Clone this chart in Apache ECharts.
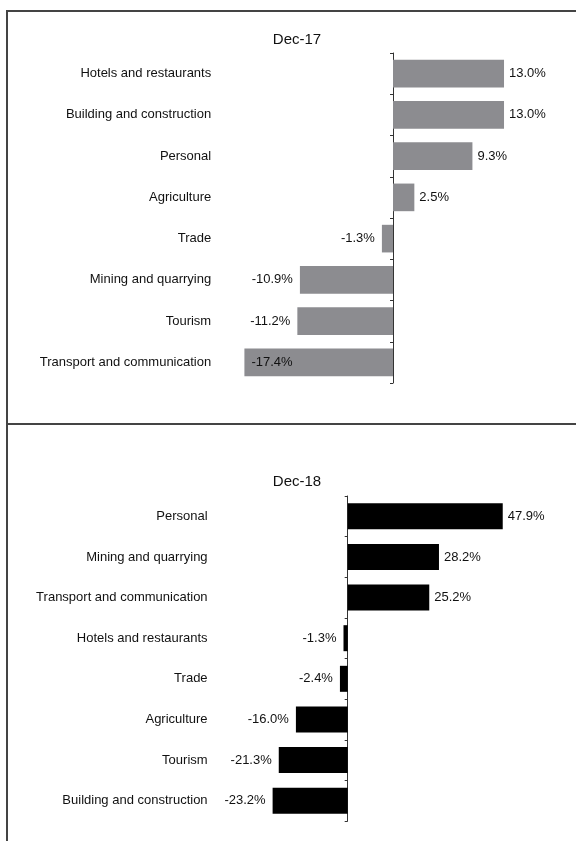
<!DOCTYPE html>
<html>
<head>
<meta charset="utf-8">
<script src="https://cdn.jsdelivr.net/npm/echarts@6/dist/echarts.min.js"></script>
<style>
  html, body { margin: 0; padding: 0; background: #fff; }
  #main { width: 576px; height: 841px; }
</style>
</head>
<body>
<div id="main"></div>
<script>
// top panel
const title17 = "Dec-17";
const cats17 = ["Hotels and restaurants", "Building and construction", "Personal", "Agriculture",
  "Trade", "Mining and quarrying", "Tourism", "Transport and communication"];
const vals17 = [13.0, 13.0, 9.3, 2.5, -1.3, -10.9, -11.2, -17.4];

// bottom panel
const title18 = "Dec-18";
const cats18 = ["Personal", "Mining and quarrying", "Transport and communication", "Hotels and restaurants",
  "Trade", "Agriculture", "Tourism", "Building and construction"];
const vals18 = [47.9, 28.2, 25.2, -1.3, -2.4, -16.0, -21.3, -23.2];

const FONT = "'Liberation Sans', Arial, sans-serif";
const myChart = echarts.init(document.getElementById("main"));

// label to the right for positive, left for negative, inside when bar is near the plot edge
function barData(vals, xMin) {
  return vals.map(v => {
    let pos = v >= 0 ? "right" : "left";
    if (v < xMin * 0.8) pos = "insideLeft";
    return { value: v, label: { position: pos, distance: v >= 0 ? 5 : 7 } };
  });
}

function yAxisFor(idx, cats, margin) {
  return {
    type: "category",
    gridIndex: idx,
    data: cats,
    inverse: true,
    axisLine: { onZero: true, lineStyle: { color: "#333", width: 1 } },
    axisTick: { show: true, length: 3, lineStyle: { color: "#333" } },
    axisLabel: { margin: margin, color: "#111", fontSize: 13, fontFamily: FONT },
    splitLine: { show: false }
  };
}

function xAxisFor(idx, min, max) {
  return {
    type: "value",
    gridIndex: idx,
    min: min,
    max: max,
    axisLine: { show: false },
    axisTick: { show: false },
    axisLabel: { show: false },
    splitLine: { show: false }
  };
}

const labelStyle = {
  show: true,
  color: "#111",
  fontSize: 13,
  fontFamily: FONT,
  formatter: p => p.value.toFixed(1) + "%"
};

const option = {
  animation: false,
  backgroundColor: "#fff",
  title: [
    { text: title17, left: 292, top: 27, textAlign: "center",
      textStyle: { fontSize: 15, fontWeight: "normal", color: "#111", fontFamily: FONT } },
    { text: title18, left: 292, top: 469, textAlign: "center",
      textStyle: { fontSize: 15, fontWeight: "normal", color: "#111", fontFamily: FONT } }
  ],
  grid: [
    { left: 222.2, right: 12.2, top: 53, height: 330, containLabel: false, outerBoundsMode: "none" },
    { left: 250.6, right: 34.1, top: 496, height: 325, containLabel: false, outerBoundsMode: "none" }
  ],
  xAxis: [xAxisFor(0, -20, 20), xAxisFor(1, -30, 60)],
  yAxis: [yAxisFor(0, cats17, 11), yAxisFor(1, cats18, 43)],
  series: [
    {
      type: "bar",
      xAxisIndex: 0,
      yAxisIndex: 0,
      data: barData(vals17, -20),
      barCategoryGap: "33%",
      itemStyle: { color: "#8c8c90" },
      label: labelStyle
    },
    {
      type: "bar",
      xAxisIndex: 1,
      yAxisIndex: 1,
      data: barData(vals18, -30),
      barCategoryGap: "36%",
      itemStyle: { color: "#000" },
      label: labelStyle
    }
  ],
  graphic: [
    { type: "rect", shape: { x: 7, y: 11, width: 640, height: 900 },
      style: { fill: "none", stroke: "#444", lineWidth: 2 } },
    { type: "line", shape: { x1: 7, y1: 424, x2: 600, y2: 424 },
      style: { stroke: "#444", lineWidth: 2 } }
  ]
};

myChart.setOption(option);
window.addEventListener("resize", () => {
  myChart.resize();
});
</script>
</body>
</html>
